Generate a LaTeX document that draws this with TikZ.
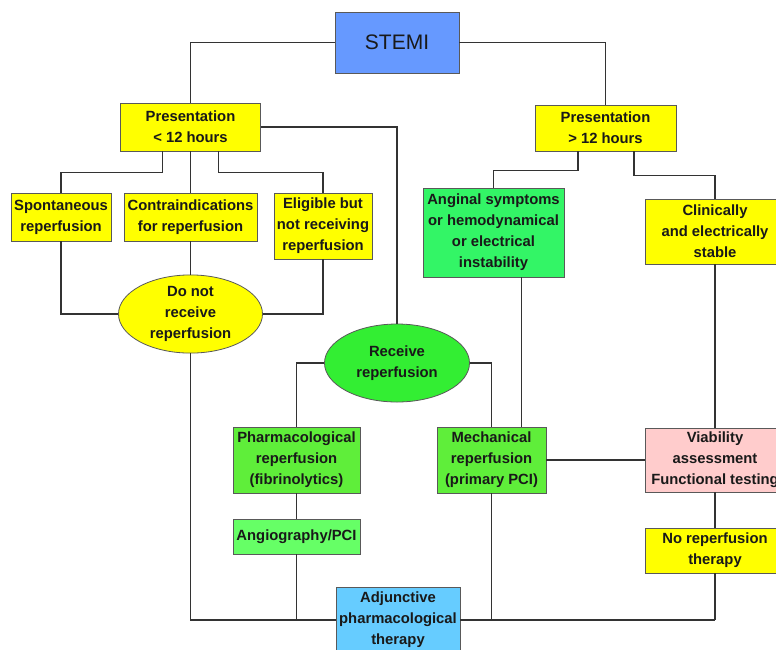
\documentclass[tikz,border=0pt]{standalone}
\usepackage{fontspec}
\setmainfont{Liberation Sans}
\usetikzlibrary{shapes.geometric}
\definecolor{stemiblue}{HTML}{6699FF}
\definecolor{ybox}{HTML}{FFFF00}
\definecolor{gA}{HTML}{33F566}
\definecolor{gB}{HTML}{5FEE3A}
\definecolor{gC}{HTML}{66FF66}
\definecolor{gE}{HTML}{33EE33}
\definecolor{adjblue}{HTML}{66CCFF}
\definecolor{pinkbox}{HTML}{FFCCCC}
\definecolor{linec}{HTML}{333333}
\tikzset{
  base/.style={draw=black!65, line width=0.8pt, align=center, inner sep=0pt,
    font=\fontsize{14.8}{21}\selectfont\bfseries, text=black!90},
  box/.style={base, rectangle},
  oval/.style={base, ellipse},
  conn/.style={draw=linec, line width=1.3pt},
}
\begin{document}
\begin{tikzpicture}[x=1pt,y=-1pt]
\useasboundingbox (0,0) rectangle (776,649);
% nodes
\node[box, fill=stemiblue, minimum width=124, minimum height=61,
  font=\fontsize{21}{24}\selectfont] (stemi) at (397,42.5) {STEMI};
\node[box, fill=ybox, minimum width=140, minimum height=48] (p1) at (190.5,127) {Presentation\\< 12 hours};
\node[box, fill=ybox, minimum width=141, minimum height=46] (p2) at (605.5,128) {Presentation\\> 12 hours};
\node[box, fill=ybox, minimum width=100, minimum height=48] (spont) at (61,217) {Spontaneous\\reperfusion};
\node[box, fill=ybox, minimum width=133, minimum height=48] (contra) at (190.5,217) {Contraindications\\for reperfusion};
\node[box, fill=ybox, minimum width=98, minimum height=66] (elig) at (323,226) {Eligible but\\not receiving\\reperfusion};
\node[oval, fill=ybox, minimum width=144, minimum height=76] (dnr) at (190.5,314) {Do not\\receive\\reperfusion};
\node[oval, fill=gE, minimum width=145, minimum height=78] (recv) at (397,363) {Receive\\reperfusion};
\node[box, fill=gA, minimum width=141, minimum height=89] (angin) at (493.5,232.5) {Anginal symptoms\\or hemodynamical\\or electrical\\instability};
\node[box, fill=ybox, minimum width=140, minimum height=65] (clin) at (715,231.5) {Clinically\\and electrically\\stable};
\node[box, fill=gB, minimum width=127, minimum height=66] (pharm) at (296.5,460) {Pharmacological\\reperfusion\\(fibrinolytics)};
\node[box, fill=gC, minimum width=127, minimum height=35] (angio) at (296.5,536.5) {Angiography/PCI};
\node[box, fill=gB, minimum width=109, minimum height=66] (mech) at (491.5,460) {Mechanical\\reperfusion\\(primary PCI)};
\node[box, fill=pinkbox, minimum width=140, minimum height=64] (viab) at (715,460) {Viability\\assessment\\Functional testing};
\node[box, fill=ybox, minimum width=140, minimum height=45] (norep) at (715,550.5) {No reperfusion\\therapy};
\node[box, fill=adjblue, minimum width=124, minimum height=66] (adj) at (398,620) {Adjunctive\\pharmacological\\therapy};
\coordinate (bl) at (190.5,620);
\coordinate (br) at (715,620);
% connectors
\draw[conn] (stemi.west) -| (p1.north);
\draw[conn] (stemi.east) -| (p2.north);
\draw[conn] ([xshift=-28pt]p1.south) -- ++(0,21) -| (spont.north);
\draw[conn] (p1.south) -- (contra.north);
\draw[conn] ([xshift=28pt]p1.south) -- ++(0,21) -| (elig.north);
\draw[conn] (p1.east) -| (recv.north);
\draw[conn] (spont.south) |- (dnr.west);
\draw[conn] (contra.south) -- (dnr.north);
\draw[conn] (elig.south) |- (dnr.east);
\draw[conn] (dnr.south) -- (bl) -- (adj.west);
\draw[conn] (adj.east) -- (br);
\draw[conn] ([xshift=-27.5pt]p2.south) -- ++(0,19) -| (angin.north);
\draw[conn] ([xshift=28.5pt]p2.south) -- ++(0,24) -| (clin.north);
\draw[conn] ([xshift=28pt]angin.south) -- ([xshift=28pt]angin.south |- mech.north);
\draw[conn] (recv.west) -| (pharm.north);
\draw[conn] (recv.east) -| (mech.north);
\draw[conn] (pharm.south) -- (angio.north);
\draw[conn] (angio.south) -- (angio.south |- bl);
\draw[conn] (mech.south) -- (mech.south |- bl);
\draw[conn] (mech.east) -- (viab.west);
\draw[conn] (clin.south) -- (viab.north);
\draw[conn] (viab.south) -- (norep.north);
\draw[conn] (norep.south) -- (br);
\end{tikzpicture}
\end{document}
